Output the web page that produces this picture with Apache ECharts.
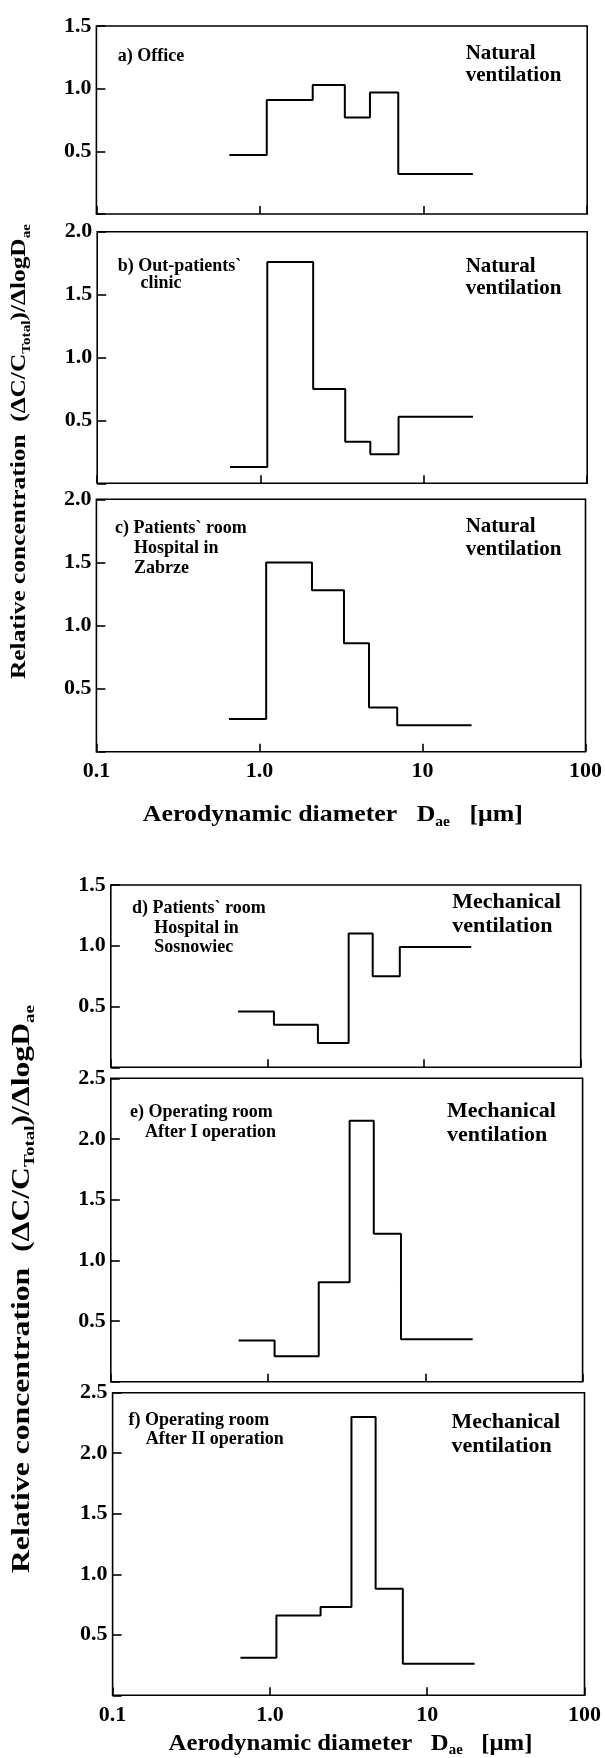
<!DOCTYPE html>
<html>
<head>
<meta charset="utf-8">
<script src="https://cdn.jsdelivr.net/npm/echarts@6/dist/echarts.min.js"></script>
<style>
html,body{margin:0;padding:0;background:#fff;}
#chart{width:605px;height:1758px;}
</style>
</head>
<body>
<div id="chart"></div>
<script>
// ---------------- DATA ----------------
// Andersen impactor stage edges (aerodynamic diameter, µm)
const binEdges = [0.65, 1.1, 2.1, 3.3, 4.7, 7.0, 20];
// Relative concentration (ΔC/C_Total)/ΔlogD_ae per stage
const officeValues        = [0.47, 0.91, 1.03, 0.77, 0.97, 0.32];
const outPatientsValues   = [0.13, 1.76, 0.75, 0.33, 0.23, 0.53];
const zabrzeValues        = [0.26, 1.50, 1.28, 0.86, 0.35, 0.21];
const sosnowiecValues     = [0.46, 0.35, 0.20, 1.10, 0.75, 0.99];
const operatingIValues    = [0.34, 0.21, 0.82, 2.15, 1.22, 0.35];
const operatingIIValues   = [0.31, 0.66, 0.73, 2.30, 0.88, 0.26];

const panelLabels = [
  ['a) Office'],
  ['b) Out-patients`', 'clinic'],
  ['c) Patients` room', 'Hospital in', 'Zabrze'],
  ['d) Patients` room', 'Hospital in', 'Sosnowiec'],
  ['e) Operating room', 'After I operation'],
  ['f) Operating room', 'After II operation']
];
const ventilationLabels = [
  ['Natural', 'ventilation'], ['Natural', 'ventilation'], ['Natural', 'ventilation'],
  ['Mechanical', 'ventilation'], ['Mechanical', 'ventilation'], ['Mechanical', 'ventilation']
];
const yAxisMax = [1.5, 2.0, 2.0, 1.5, 2.5, 2.5];
const xTickValues = [0.1, 1, 10, 100];
const xTickLabels = ['0.1', '1.0', '10', '100'];
const xTitleParts = [['Aerodynamic diameter   D', false], ['ae', true], ['   [\u03bcm]', false]];
const yTitleParts = [['Relative concentration  (\u0394C/C', false], ['Total', true], [')/\u0394logD', false], ['ae', true]];

const seriesValues = [officeValues, outPatientsValues, zabrzeValues, sosnowiecValues, operatingIValues, operatingIIValues];

// ---------------- LAYOUT ----------------
const FONT = '"Liberation Serif", "Times New Roman", serif';
const W = 605;
const grids = [
  {l: 96.4,  r: 587.2, t: 26,     b: 214},
  {l: 97.2,  r: 587.2, t: 231.7,  b: 483.3},
  {l: 96.4,  r: 588.4, t: 499.3,  b: 751.7},
  {l: 110.8, r: 580.7, t: 885,    b: 1067.3},
  {l: 110.8, r: 582.6, t: 1078.3, b: 1381.7},
  {l: 112.6, r: 584.5, t: 1392.7, b: 1695.3}
];
const labelPos = [
  {x1: 117.7, x2: 117.7, base: 62.7,   gap: 20},
  {x1: 117.7, x2: 140.5, base: 272.7,  gap: 16.6},
  {x1: 115,   x2: 134,   base: 534.5,  gap: 20},
  {x1: 132,   x2: 154.3, base: 914.3,  gap: 19.8},
  {x1: 130,   x2: 145,   base: 1118.5, gap: 20},
  {x1: 128.5, x2: 145.8, base: 1426,   gap: 19}
];
const ventPos = [
  {x: 465.7, base: 61,    gap: 21.3, size: 21},
  {x: 465.7, base: 273.7, gap: 21.6, size: 21},
  {x: 465.7, base: 534,   gap: 22.7, size: 21},
  {x: 452.2, base: 910,   gap: 24,   size: 22},
  {x: 447,   base: 1118.3,gap: 24,   size: 22},
  {x: 451.4, base: 1430,  gap: 24,   size: 22}
];
const xTitles = [
  {cx: 332.8, base: 823.3, width: 380, size: 23},
  {cx: 350.5, base: 1751.7, width: 364, size: 23}
];
const yTitles = [
  {cx: 19.5, cy: 451.5, length: 455, size: 22},
  {cx: 22.5, cy: 1289,  length: 568, size: 25}
];

const ctx = document.createElement('canvas').getContext('2d');
function measureParts(parts, size) {
  let w = 0;
  parts.forEach(([t, sub]) => {
    ctx.font = 'bold ' + (sub ? size * 0.6 : size) + 'px ' + FONT;
    w += ctx.measureText(t).width;
  });
  return w;
}
function richString(parts) {
  return parts.map(([t, sub]) => '{' + (sub ? 's' : 'b') + '|' + t + '}').join('');
}
function richStyles(size) {
  return {
    b: {fontFamily: FONT, fontWeight: 'bold', fontSize: size, lineHeight: size * 1.2, fill: '#000', color: '#000'},
    s: {fontFamily: FONT, fontWeight: 'bold', fontSize: size * 0.6, lineHeight: size * 0.6, verticalAlign: 'bottom', fill: '#000', color: '#000'}
  };
}
function textEl(x, baseline, text, size, align) {
  return {
    type: 'text', x: x, y: baseline - 0.34 * size, z: 10,
    style: {
      text: text, fontFamily: FONT, fontWeight: 'bold', fontSize: size, fill: '#000',
      textAlign: align || 'left', align: align || 'left',
      textVerticalAlign: 'middle', verticalAlign: 'middle'
    }
  };
}

const gridOpt = [], xAxes = [], yAxes = [], series = [], graphics = [];
grids.forEach((g, i) => {
  gridOpt.push({left: g.l, top: g.t, width: g.r - g.l, height: g.b - g.t,
    show: true, borderColor: '#000', borderWidth: 1.6, backgroundColor: 'transparent', containLabel: false});
  const showX = (i === 2 || i === 5);
  xAxes.push({
    type: 'log', logBase: 10, min: 0.1, max: 100, gridIndex: i,
    axisLine: {show: false},
    axisTick: {show: true, inside: true, length: 8, lineStyle: {color: '#000', width: 1.6}},
    axisLabel: {show: showX, margin: 9, color: '#000', fontFamily: FONT, fontWeight: 'bold', fontSize: 22,
      formatter: v => xTickLabels[Math.round(Math.log10(v)) + 1]},
    splitLine: {show: false}, minorTick: {show: false}
  });
  yAxes.push({
    type: 'value', min: 0, max: yAxisMax[i], interval: 0.5, gridIndex: i,
    axisLine: {show: false},
    axisTick: {show: true, inside: true, length: 9, lineStyle: {color: '#000', width: 1.6}},
    axisLabel: {margin: 5, color: '#000', fontFamily: FONT, fontWeight: 'bold', fontSize: 22,
      formatter: v => (v === 0 ? '' : v.toFixed(1))},
    splitLine: {show: false}
  });
  const vals = seriesValues[i];
  const data = binEdges.map((e, k) => [e, vals[Math.min(k, vals.length - 1)]]);
  series.push({
    type: 'line', xAxisIndex: i, yAxisIndex: i, step: 'end', symbol: 'none',
    lineStyle: {color: '#000', width: 2}, data: data, silent: true, z: 5
  });
  // panel labels
  const lp = labelPos[i];
  panelLabels[i].forEach((t, k) => {
    graphics.push(textEl(k === 0 ? lp.x1 : lp.x2, lp.base + k * lp.gap, t, 18));
  });
  const vp = ventPos[i];
  ventilationLabels[i].forEach((t, k) => {
    graphics.push(textEl(vp.x, vp.base + k * vp.gap, t, vp.size));
  });
});

xTitles.forEach(xt => {
  const nat = measureParts(xTitleParts, xt.size);
  graphics.push({
    type: 'text', x: xt.cx, y: xt.base - 0.34 * xt.size, scaleX: xt.width / nat, z: 10,
    style: {text: richString(xTitleParts), rich: richStyles(xt.size),
      fontFamily: FONT, fontWeight: 'bold', fontSize: xt.size, fill: '#000',
      textAlign: 'center', align: 'center', textVerticalAlign: 'middle', verticalAlign: 'middle'}
  });
});
yTitles.forEach(yt => {
  const nat = measureParts(yTitleParts, yt.size);
  graphics.push({
    type: 'text', x: yt.cx, y: yt.cy, rotation: Math.PI / 2, scaleX: yt.length / nat, z: 10,
    style: {text: richString(yTitleParts), rich: richStyles(yt.size),
      fontFamily: FONT, fontWeight: 'bold', fontSize: yt.size, fill: '#000',
      textAlign: 'center', align: 'center', textVerticalAlign: 'middle', verticalAlign: 'middle'}
  });
});

const chart = echarts.init(document.getElementById('chart'), null, {renderer: 'canvas'});
chart.setOption({
  backgroundColor: '#fff',
  animation: false,
  grid: gridOpt,
  xAxis: xAxes,
  yAxis: yAxes,
  series: series,
  graphic: graphics
});
</script>
</body>
</html>
